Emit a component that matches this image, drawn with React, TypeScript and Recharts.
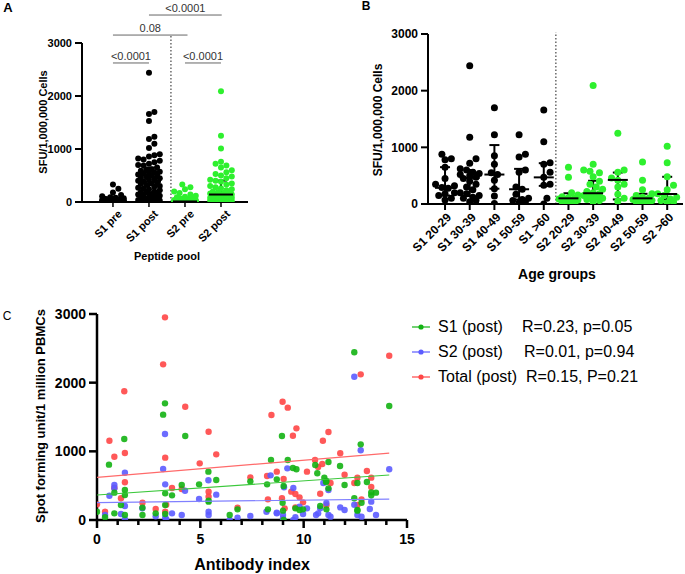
import React from 'react';
import { ScatterChart, Scatter, XAxis, YAxis, ErrorBar, ReferenceLine } from 'recharts';

const FONT = 'Arial, "Liberation Sans", Helvetica, sans-serif';
const LIME = '#2ef02e';

// ---- panel A: peptide pools ----
const poolLabels = ['S1 pre', 'S1 post', 'S2 pre', 'S2 post'];
const s1Pre = [330, 250, 180, 130, 110, 90, 80, 70, 65, 60, 55, 50, 45, 40, 40, 35, 30, 30, 25, 25, 20, 20, 20, 15, 15, 15, 10, 10, 10, 10, 5, 5, 5, 5, 0, 0, 0, 0, 0, 0, 0, 0, 0, 0, 0, 0, 0, 0];
const s1Post = [2440, 1700, 1660, 1530, 1230, 1190, 1100, 1020, 900, 880, 860, 820, 800, 780, 750, 720, 700, 690, 650, 620, 600, 590, 570, 560, 550, 540, 520, 510, 500, 480, 460, 450, 440, 420, 400, 390, 370, 350, 340, 320, 300, 290, 270, 250, 240, 220, 200, 190, 180, 160, 150, 140, 130, 120, 100, 90, 80, 70, 60, 50, 40, 30, 20, 10, 0];
const s2Pre = [330, 280, 240, 200, 170, 140, 120, 100, 90, 80, 70, 60, 55, 50, 45, 40, 35, 30, 30, 25, 25, 20, 20, 20, 15, 15, 10, 10, 10, 5, 5, 5, 5, 0, 0, 0, 0, 0, 0, 0, 0, 0, 0, 0, 0, 0, 0];
const s2Post = [2090, 1250, 1010, 760, 720, 690, 650, 600, 560, 530, 500, 480, 450, 420, 400, 380, 350, 330, 300, 280, 260, 240, 220, 200, 190, 180, 170, 160, 150, 140, 130, 120, 110, 100, 100, 90, 80, 80, 70, 60, 60, 50, 50, 40, 40, 30, 20, 20, 10, 0];
const poolMedian = [20, 380, 10, 141];
const poolQ1 = [0, 150, 0, 60];
const poolQ3 = [50, 650, 30, 404];

// ---- panel B: age groups ----
const ageLabels = ['S1 20-29', 'S1 30-39', 'S1 40-49', 'S1 50-59', 'S1 >60', 'S2 20-29', 'S2 30-39', 'S2 40-49', 'S2 50-59', 'S2 >60'];
const s1Age20 = [880, 800, 780, 650, 450, 350, 320, 290, 280, 200, 180, 150, 100, 70];
const s1Age30 = [2440, 1180, 800, 720, 620, 600, 560, 540, 520, 500, 470, 450, 400, 350, 300, 250, 200, 180, 150, 120, 100, 60, 40];
const s1Age40 = [1700, 1220, 850, 700, 550, 520, 420, 270, 140, 10];
const s1Age50 = [1220, 880, 830, 600, 560, 300, 260, 170, 100, 80, 60, 40, 20];
const s1Age60 = [1660, 1100, 730, 700, 560, 470, 350, 330, 100, 0];
const s2Age20 = [650, 470, 200, 160, 130, 110, 100, 90, 80, 70, 60, 40, 20, 10];
const s2Age30 = [2090, 700, 600, 580, 550, 480, 400, 350, 300, 260, 220, 200, 180, 150, 130, 120, 100, 80, 60, 40];
const s2Age40 = [1250, 600, 560, 460, 420, 350, 300, 170, 100, 50];
const s2Age50 = [740, 420, 250, 180, 150, 120, 100, 80, 70, 60, 50, 40, 30, 20];
const s2Age60 = [1020, 730, 480, 330, 250, 180, 150, 120, 90, 60, 40, 20];
const ageMedian = [285, 460, 520, 260, 470, 100, 190, 425, 100, 176];
const ageQ1 = [150, 140, 270, 80, 320, 60, 100, 80, 50, 80];
const ageQ3 = [650, 600, 1040, 620, 720, 190, 410, 555, 180, 480];

// ---- panel C: antibody index vs SFU ----
const s1Corr: [number, number][] = [
  [0, 121], [0.39, 39], [0.58, 806], [0.84, 398], [0.84, 97], [1.16, 218], [1.32, 1180], [1.35, 437], [1.35, 364], [1.35, 73],
  [2.2, 180], [2.2, 73], [2.84, 97], [3.2, 1534], [3.29, 1699], [3.3, 388], [3.3, 218], [3.3, 87], [3.63, 359], [4.1, 510],
  [4.27, 1223], [4.94, 519], [5.39, 704], [5.4, 282], [5.4, 267], [5.77, 583], [6.42, 73], [6.8, 155], [7.42, 563], [8.23, 519],
  [8.27, 155], [8.42, 874], [8.7, 592], [8.95, 1223], [8.98, 252], [9.03, 495], [9.0, 136], [9.03, 0], [9.23, 874], [9.48, 757],
  [9.6, 170], [9.65, 738], [9.8, 146], [9.97, 155], [10.56, 800], [10.66, 680], [10.8, 204], [11.0, 617], [11.08, 553], [11.1, 568],
  [11.1, 155], [11.2, 845], [11.2, 461], [11.76, 786], [11.98, 510], [12.45, 2442], [12.45, 316], [12.6, 539], [12.6, 146], [12.6, 136],
  [12.76, 1102], [12.8, 252], [13.06, 553], [13.27, 403], [13.27, 359], [13.5, 398], [14.14, 1660],
];
const s2Corr: [number, number][] = [
  [0.39, 73], [0.6, 354], [0.84, 510], [0.84, 461], [1.16, 87], [1.35, 689], [1.35, 204], [1.35, 10], [2.19, 170], [2.84, 53],
  [3.2, 743], [3.29, 1252], [3.3, 519], [3.3, 34], [3.35, 10], [3.63, 97], [4.1, 73], [4.26, 427], [4.94, 306], [5.39, 578],
  [5.4, 121], [5.4, 73], [5.77, 369], [6.42, 0], [6.8, 34], [7.42, 58], [8.2, 121], [8.4, 650], [8.7, 107], [8.7, 97],
  [9.0, 73], [9.0, 24], [9.05, 476], [9.21, 752], [9.5, 466], [9.5, 0], [9.6, 39], [9.8, 194], [9.97, 87], [10.16, 170],
  [10.6, 73], [10.7, 97], [10.8, 170], [10.95, 539], [11.1, 248], [11.2, 437], [11.2, 73], [11.3, 49], [11.77, 184], [11.98, 146],
  [12.45, 2087], [12.45, 223], [12.6, 73], [12.76, 1015], [12.8, 49], [13.2, 160], [13.27, 267], [13.5, 73], [14.14, 738],
];
const totalCorr: [number, number][] = [
  [0, 228], [0.39, 121], [0.6, 1155], [0.84, 922], [0.84, 470], [1.16, 316], [1.32, 1874], [1.35, 976], [1.35, 549], [2.2, 252],
  [2.84, 160], [3.2, 2267], [3.29, 2951], [3.3, 908], [3.3, 121], [3.35, 223], [3.63, 466], [4.1, 451], [4.27, 1650], [4.97, 825],
  [5.4, 1286], [5.4, 413], [5.4, 340], [5.77, 956], [6.8, 180], [7.42, 621], [8.23, 641], [8.27, 301], [8.44, 1529], [8.7, 704],
  [8.95, 316], [8.98, 1723], [9.03, 597], [9.08, 170], [9.23, 1636], [9.4, 413], [9.48, 1228], [9.6, 379], [9.6, 184], [9.65, 1335],
  [9.8, 330], [9.97, 257], [10.16, 704], [10.55, 874], [10.7, 772], [10.8, 383], [10.9, 815], [10.93, 1155], [11.1, 214], [11.2, 1282],
  [11.3, 539], [11.77, 971], [11.98, 660], [12.45, 539], [12.6, 617], [12.6, 218], [12.76, 2121], [12.8, 301], [13.06, 714], [13.27, 617],
  [13.27, 481], [14.14, 2393],
];
const s1Fit: [number, number][] = [[0, 364], [14.14, 655]];
const s2Fit: [number, number][] = [[0, 252], [14.14, 305]];
const totalFit: [number, number][] = [[0, 620], [14.14, 975]];
const antibodyTicks = [0, 1, 2, 3, 4, 5, 6, 7, 8, 9, 10, 11, 12, 13, 14, 15];
const legendNames = ['S1 (post)', 'S2 (post)', 'Total (post)'];
const legendStats = ['R=0.23, p=0.05', 'R=0.01, p=0.94', 'R=0.15, P=0.21'];
const legendColors = ['#13b313', '#5c5cff', '#ff4646'];

// simple beeswarm: spread equal-ish values sideways so dots don't pile up
function swarm(values: number[], center: number, pxX: number, pxY: number, r: number, maxOff: number) {
  const sorted = [...values].sort((a, b) => a - b);
  const placed: { ox: number; py: number }[] = [];
  const out: { x: number; y: number }[] = [];
  const step = r * 0.9;
  const cands = [0];
  for (let k = 1; k * step <= maxOff; k++) cands.push(k * step, -k * step);
  const minD = 2 * r * 0.9;
  for (const v of sorted) {
    const py = v * pxY;
    let best = 0;
    let bestScore = -1;
    for (const c of cands) {
      let md = Infinity;
      for (const p of placed) {
        const d = Math.hypot(p.ox - c, p.py - py);
        if (d < md) md = d;
      }
      if (md >= minD) { best = c; break; }
      if (md > bestScore) { bestScore = md; best = c; }
    }
    placed.push({ ox: best, py });
    out.push({ x: center + best / pxX, y: v });
  }
  return out;
}

const toPts = (arr: [number, number][]) => arr.map(([x, y]) => ({ x, y }));
const statRows = (med: number[], q1: number[], q3: number[]) =>
  med.map((m, i) => ({ x: i, y: m, err: [m - q1[i], q3[i] - m] }));

const dot = (color: string, r: number, opacity = 1) => (p: any) =>
  <circle cx={p.cx} cy={p.cy} r={r} fill={color} fillOpacity={opacity} />;
const medLine = (half: number) => (p: any) =>
  <line x1={p.cx - half} x2={p.cx + half} y1={p.cy} y2={p.cy} stroke="#000" strokeWidth={2} />;
const noShape = () => <g />;

const rotTick = (labels: string[], size: number, dx: number, dy: number) => (p: any) => (
  <g transform={`translate(${p.x + dx},${p.y + dy})`}>
    <text x={0} y={0} dy="0.35em" textAnchor="end" transform="rotate(-45)"
      fontSize={size} fontWeight={700} fontFamily={FONT} fill="#000">
      {labels[p.payload.value]}
    </text>
  </g>
);

const cTick = (p: any) => {
  const v = p.payload.value;
  const major = v % 5 === 0;
  return (
    <g>
      <line x1={p.x} x2={p.x} y1={p.y} y2={p.y + (major ? 8 : 5)} stroke="#000" strokeWidth={2.5} />
      {major && (
        <text x={p.x} y={p.y + 24} textAnchor="middle" fontSize={14} fontWeight={700} fontFamily={FONT} fill="#000">{v}</text>
      )}
    </g>
  );
};

const Txt = ({ x, y, size, bold = true, rotate = false, children }: any) => (
  <div style={{
    position: 'absolute', left: x, top: y, transform: `translate(-50%, -50%)${rotate ? ' rotate(-90deg)' : ''}`,
    whiteSpace: 'nowrap', fontFamily: FONT, fontSize: size, fontWeight: bold ? 700 : 400, color: '#000', lineHeight: 1,
  }}>{children}</div>
);

const axisStyle = { stroke: '#000', strokeWidth: 2 };

export default function App() {
  // panel A geometry: plot 166 x 159 px
  const aPxX = 166 / (3.75 + 0.86);
  const aPxY = 159 / 3000;
  const aBlack = [...swarm(s1Pre, 0, aPxX, aPxY, 3, 13), ...swarm(s1Post, 1, aPxX, aPxY, 3, 12)];
  const aGreen = [...swarm(s2Pre, 2, aPxX, aPxY, 3, 13), ...swarm(s2Post, 3, aPxX, aPxY, 3, 12)];
  const aStats = statRows(poolMedian, poolQ1, poolQ3);

  // panel B geometry: plot 255 x 170 px
  const bPxX = 255 / (9.64 + 0.69);
  const bPxY = 170 / 3000;
  const s1Groups = [s1Age20, s1Age30, s1Age40, s1Age50, s1Age60];
  const s2Groups = [s2Age20, s2Age30, s2Age40, s2Age50, s2Age60];
  const bBlack = s1Groups.flatMap((g, i) => swarm(g, i, bPxX, bPxY, 3.5, 10));
  const bGreen = s2Groups.flatMap((g, i) => swarm(g, i + 5, bPxX, bPxY, 3.5, 10));
  const bStats = statRows(ageMedian, ageQ1, ageQ3);

  const bracketLabel = (value: string) => ({ value, position: 'top' as const, fontSize: 11, fill: '#333', fontFamily: FONT, offset: 3 });

  return (
    <div style={{ position: 'absolute', left: 0, top: 0, width: 685, height: 574, background: '#fff', overflow: 'hidden' }}>
      {/* Panel A */}
      <div style={{ position: 'absolute', left: 0, top: 0 }}>
        <ScatterChart width={260} height={290} margin={{ top: 43, right: 12, bottom: 28, left: 32 }}>
          <XAxis type="number" dataKey="x" domain={[-0.86, 3.75]} allowDataOverflow ticks={[0, 1, 2, 3]} interval={0}
            height={60} tickSize={5} tickMargin={2} axisLine={axisStyle} tickLine={{ stroke: '#000', strokeWidth: 1.5 }}
            tick={rotTick(poolLabels, 11, 7, 3)} />
          <YAxis type="number" dataKey="y" domain={[0, 3000]} allowDataOverflow ticks={[0, 1000, 2000, 3000]} interval={0}
            width={50} tickSize={7} tickMargin={3} axisLine={axisStyle} tickLine={axisStyle}
            tick={{ fill: '#000', fontSize: 11, fontWeight: 700, fontFamily: FONT }} />
          <ReferenceLine segment={[{ x: 1.61, y: 0 }, { x: 1.61, y: 3150 }]} stroke="#444" strokeWidth={1.2} strokeDasharray="1.5 2" ifOverflow="visible" />
          <ReferenceLine segment={[{ x: 0, y: 2623 }, { x: 1, y: 2623 }]} stroke="#666" strokeWidth={1} ifOverflow="visible" label={bracketLabel('<0.0001')} />
          <ReferenceLine segment={[{ x: 2, y: 2623 }, { x: 3, y: 2623 }]} stroke="#666" strokeWidth={1} ifOverflow="visible" label={bracketLabel('<0.0001')} />
          <ReferenceLine segment={[{ x: 0, y: 3150 }, { x: 2.07, y: 3150 }]} stroke="#666" strokeWidth={1} ifOverflow="visible" label={bracketLabel('0.08')} />
          <ReferenceLine segment={[{ x: 1, y: 3528 }, { x: 3.02, y: 3528 }]} stroke="#666" strokeWidth={1} ifOverflow="visible" label={bracketLabel('<0.0001')} />
          <Scatter data={aBlack} shape={dot('#000', 3)} isAnimationActive={false} />
          <Scatter data={aGreen} shape={dot(LIME, 3)} isAnimationActive={false} />
          <Scatter data={aStats} shape={medLine(12)} isAnimationActive={false}>
            <ErrorBar dataKey="err" direction="y" width={6} stroke="#000" strokeWidth={2} />
          </Scatter>
        </ScatterChart>
      </div>

      {/* Panel B */}
      <div style={{ position: 'absolute', left: 330, top: 0 }}>
        <ScatterChart width={355} height={290} margin={{ top: 34, right: 2, bottom: 26, left: 53 }}>
          <XAxis type="number" dataKey="x" domain={[-0.69, 9.64]} allowDataOverflow ticks={[0, 1, 2, 3, 4, 5, 6, 7, 8, 9]} interval={0}
            height={60} tickSize={6} tickMargin={2} axisLine={axisStyle} tickLine={axisStyle}
            tick={rotTick(ageLabels, 12, 4, 3)} />
          <YAxis type="number" dataKey="y" domain={[0, 3000]} allowDataOverflow ticks={[0, 1000, 2000, 3000]} interval={0}
            width={45} tickSize={7} tickMargin={3} axisLine={axisStyle} tickLine={axisStyle}
            tick={{ fill: '#000', fontSize: 12, fontWeight: 700, fontFamily: FONT }} />
          <ReferenceLine segment={[{ x: 4.49, y: 0 }, { x: 4.49, y: 3030 }]} stroke="#444" strokeWidth={1.2} strokeDasharray="1.5 2" ifOverflow="visible" />
          <Scatter data={bBlack} shape={dot('#000', 3.5)} isAnimationActive={false} />
          <Scatter data={bGreen} shape={dot(LIME, 3.5)} isAnimationActive={false} />
          <Scatter data={bStats} shape={medLine(10)} isAnimationActive={false}>
            <ErrorBar dataKey="err" direction="y" width={5} stroke="#000" strokeWidth={2} />
          </Scatter>
        </ScatterChart>
      </div>

      {/* Panel C */}
      <div style={{ position: 'absolute', left: 0, top: 290 }}>
        <ScatterChart width={420} height={284} margin={{ top: 24, right: 13, bottom: 24, left: 37 }}>
          <XAxis type="number" dataKey="x" domain={[0, 15]} allowDataOverflow ticks={antibodyTicks} interval={0}
            height={30} tickSize={0} tickMargin={0} tickLine={false} axisLine={{ stroke: '#000', strokeWidth: 2.5 }} tick={cTick} />
          <YAxis type="number" dataKey="y" domain={[0, 3000]} allowDataOverflow ticks={[0, 1000, 2000, 3000]} interval={0}
            width={60} tickSize={8} tickMargin={3} axisLine={{ stroke: '#000', strokeWidth: 2.5 }} tickLine={{ stroke: '#000', strokeWidth: 2.5 }}
            tick={{ fill: '#000', fontSize: 14, fontWeight: 700, fontFamily: FONT }} />
          <Scatter data={toPts(totalCorr)} shape={dot(legendColors[2], 3.2, 0.9)} isAnimationActive={false} />
          <Scatter data={toPts(s2Corr)} shape={dot(legendColors[1], 3.2, 0.9)} isAnimationActive={false} />
          <Scatter data={toPts(s1Corr)} shape={dot(legendColors[0], 3.2, 0.9)} isAnimationActive={false} />
          <Scatter data={toPts(totalFit)} line={{ stroke: '#ff6a6a', strokeWidth: 1.2 }} shape={noShape} isAnimationActive={false} />
          <Scatter data={toPts(s1Fit)} line={{ stroke: '#3cc83c', strokeWidth: 1.2 }} shape={noShape} isAnimationActive={false} />
          <Scatter data={toPts(s2Fit)} line={{ stroke: '#8080ff', strokeWidth: 1.2 }} shape={noShape} isAnimationActive={false} />
        </ScatterChart>
      </div>

      {/* legend for C */}
      {legendNames.map((n, i) => (
        <div key={n} style={{ position: 'absolute', left: 411, top: 317 + i * 25, height: 20, display: 'flex', alignItems: 'center', fontFamily: FONT, fontSize: 16, color: '#000', whiteSpace: 'nowrap' }}>
          <svg width={20} height={10} style={{ marginRight: 6 }}>
            <line x1={1} x2={19} y1={5} y2={5} stroke={legendColors[i]} strokeWidth={1.2} />
            <circle cx={10} cy={5} r={2.6} fill={legendColors[i]} />
          </svg>
          <span style={{ position: 'absolute', left: 27 }}>{n}</span>
          <span style={{ position: 'absolute', left: 111 + i * 2 }}>{legendStats[i]}</span>
        </div>
      ))}

      {/* panel letters and axis titles */}
      <Txt x={8} y={7} size={13}>A</Txt>
      <Txt x={366} y={6} size={12}>B</Txt>
      <Txt x={7} y={316} size={12} bold={false}>C</Txt>
      <Txt x={43} y={122} size={11} rotate>SFU/1,000,000 Cells</Txt>
      <Txt x={167} y={256} size={11}>Peptide pool</Txt>
      <Txt x={378} y={120} size={12} rotate>SFU/1,000,000 Cells</Txt>
      <Txt x={557} y={274} size={14}>Age groups</Txt>
      <Txt x={40} y={416} size={13} rotate>Spot forming unit/1 million PBMCs</Txt>
      <Txt x={252} y={565} size={16}>Antibody index</Txt>
    </div>
  );
}
